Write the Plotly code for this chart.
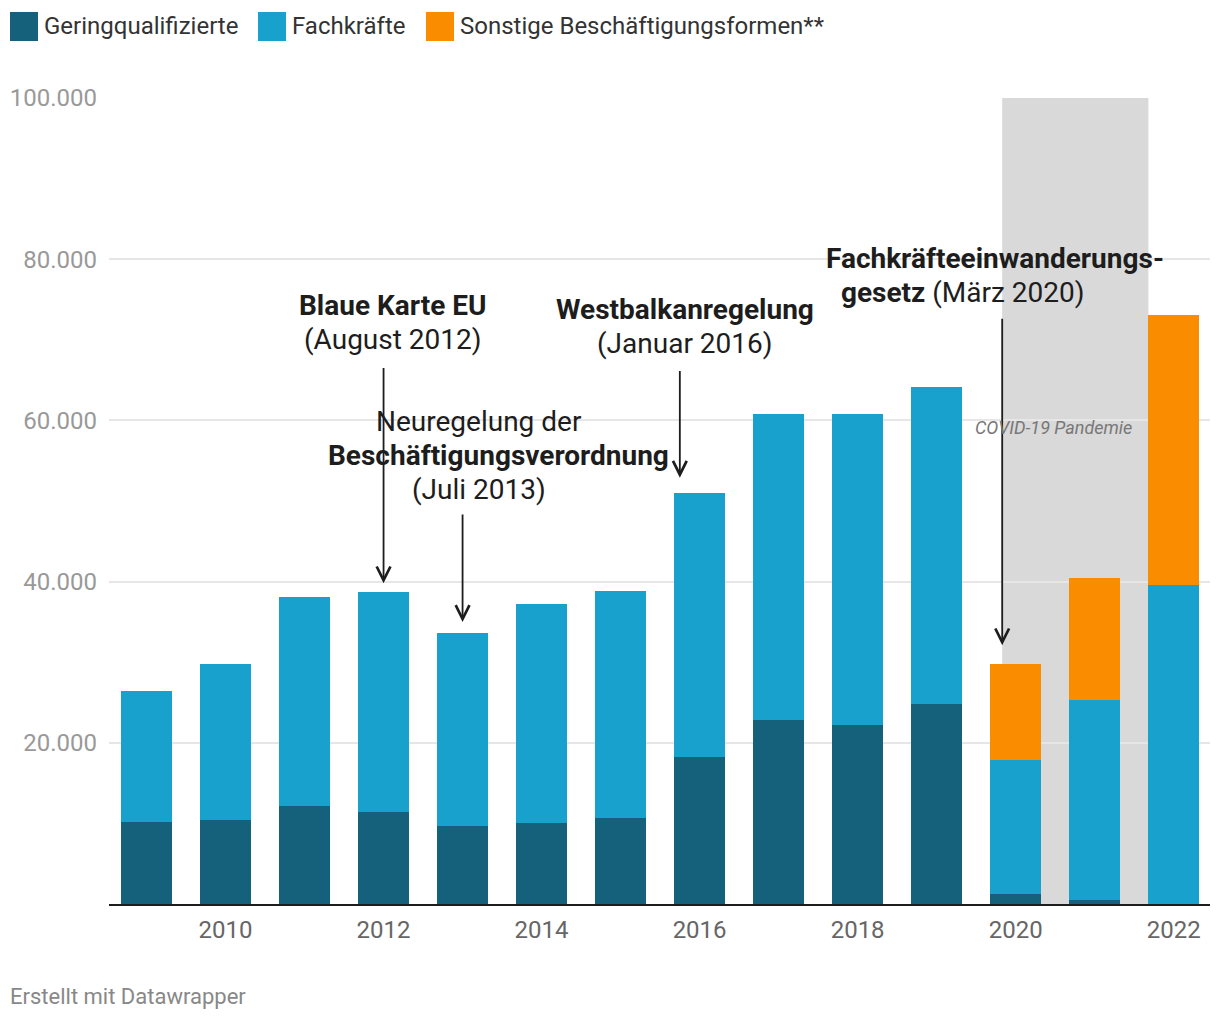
import plotly.graph_objects as go

years = list(range(2009, 2023))
series_names = ["Geringqualifizierte", "Fachkräfte", "Sonstige Beschäftigungsformen**"]
gering = [10150, 10400, 12100, 11400, 9650, 10100, 10700, 18300, 22800, 22200, 24800, 1200, 450, 0]
fach = [16250, 19400, 26000, 27300, 23950, 27100, 28100, 32700, 38000, 38600, 39400, 16700, 24850, 39600]
sonstige = [0, 0, 0, 0, 0, 0, 0, 0, 0, 0, 0, 11900, 15200, 33500]
colors = ["#15607a", "#18a1cd", "#fa8c00"]
y_ticks = [20000, 40000, 60000, 80000, 100000]
x_ticks = [2010, 2012, 2014, 2016, 2018, 2020, 2022]

FONT = "Roboto"
fig = go.Figure()
for name, vals, col in zip(series_names, [gering, fach, sonstige], colors):
    fig.add_trace(go.Bar(x=years, y=vals, name=name, marker=dict(color=col, line=dict(width=0)),
                         width=0.646, showlegend=False))

# COVID band
fig.add_shape(type="rect", xref="x", yref="y", x0=2019.83, x1=2021.68, y0=0, y1=100000,
              fillcolor="#d9d9d9", line=dict(width=0), layer="below")

txtcol = "#1d1d1d"
# Annotation text lines: (x, y, text)
lines = [
    (2012.12, 74300, "<b>Blaue Karte EU</b>"),
    (2012.12, 70080, "(August 2012)"),
    (2013.21, 59910, "Neuregelung der"),
    (2013.456, 55690, "<b>Beschäftigungsverordnung</b>"),
    (2013.21, 51470, "(Juli 2013)"),
    (2015.816, 73810, "<b>Westbalkanregelung</b>"),
    (2015.816, 69590, "(Januar 2016)"),
    (2019.734, 80140, "<b>Fachkräfteeinwanderungs-</b>"),
    (2019.335, 75920, "<b>gesetz</b> (März 2020)"),
]
for lx, ly, t in lines:
    fig.add_annotation(x=lx, y=ly, text=t, xref="x", yref="y", showarrow=False, align="center",
                       font=dict(family=FONT, size=28, color=txtcol))

# arrows: (x, tail y, tip y)
arrows = [(2012, 66700, 39800), (2013, 48500, 35000), (2015.75, 66300, 52900), (2019.83, 72800, 32100)]
for xa, y0, y1 in arrows:
    fig.add_annotation(x=xa, y=y1, ax=xa, ay=y0, xref="x", yref="y", axref="x", ayref="y",
                       showarrow=True, arrowhead=5, arrowsize=1.5, arrowwidth=1.8,
                       arrowcolor=txtcol, text="")

fig.add_annotation(x=2020.48, y=59100, xref="x", yref="y", showarrow=False,
                   text="<i>COVID-19 Pandemie</i>", font=dict(family=FONT, size=18, color="#777777"))

# Manual legend
leg_x = [10, 258, 426]
for name, col, lx in zip(series_names, colors, leg_x):
    fig.add_shape(type="rect", xref="paper", yref="paper",
                  x0=(lx - 109) / 1101, x1=(lx + 28 - 109) / 1101,
                  y0=1 + (98 - 41) / 805.7, y1=1 + (98 - 12) / 805.7,
                  fillcolor=col, line=dict(width=0))
    fig.add_annotation(xref="paper", yref="paper", x=(lx + 32 - 109) / 1101, y=1 + (98 - 26.5) / 805.7,
                       xanchor="left", yanchor="middle", showarrow=False, text=name,
                       font=dict(family=FONT, size=24, color="#333333"))

fig.add_annotation(xref="paper", yref="paper", x=(8 - 109) / 1101, y=-(996 - 903.7) / 805.7,
                   xanchor="left", yanchor="middle", showarrow=False, text="Erstellt mit Datawrapper",
                   font=dict(family=FONT, size=22, color="#888888"))

fig.update_layout(
    width=1220, height=1020,
    margin=dict(l=109, r=10, t=98, b=116.3),
    barmode="stack", bargap=0,
    plot_bgcolor="white", paper_bgcolor="white",
    separators=",.",
    font=dict(family=FONT),
    showlegend=False,
)
fig.update_xaxes(range=[2008.525, 2022.46], tickvals=x_ticks, ticktext=[str(t) for t in x_ticks],
                 showgrid=False, showline=True, linecolor="#1d1d1d", linewidth=2,
                 ticks="", tickfont=dict(family=FONT, size=24, color="#666666"), ticklabelstandoff=3,
                 zeroline=False)
fig.update_yaxes(range=[0, 100000], tickvals=y_ticks, tickformat=",d",
                 showgrid=True, gridcolor="#e6e6e6", gridwidth=2, zeroline=False,
                 tickfont=dict(family=FONT, size=24, color="#999999"), ticklabelstandoff=11)

fig.write_html("out.html")
